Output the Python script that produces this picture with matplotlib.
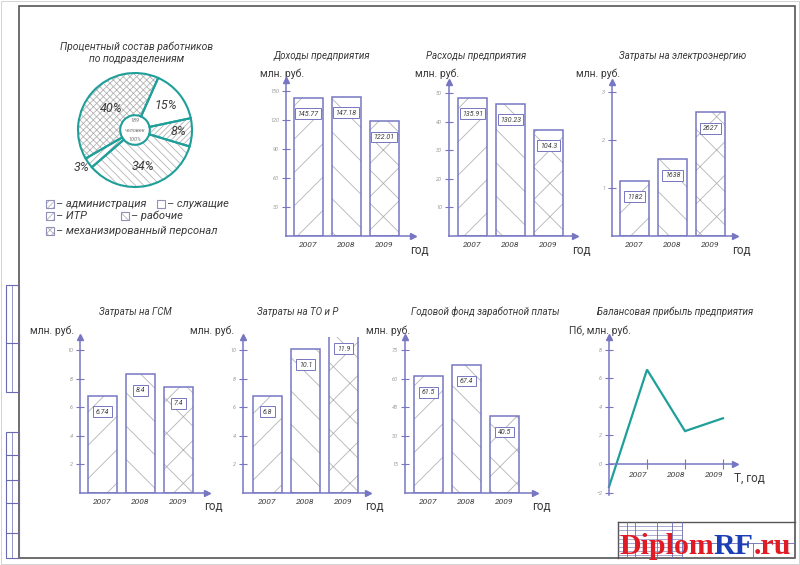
import math
import matplotlib
matplotlib.use('Agg')
import matplotlib.pyplot as plt
from matplotlib import font_manager
from matplotlib.patches import Rectangle

W, H = 800, 565

# ---- data ----
years = ['2007', '2008', '2009']

income_vals = [143, 144, 119]
income_labels = ['145.77', '147.18', '122.01']

costs_vals = [48.3, 46.2, 37.1]
costs_labels = ['135.91', '130.23', '104.3']

power_vals = [1.15, 1.6, 2.58]
power_labels = ['1182', '1638', '2627']

fuel_vals = [6.8, 8.3, 7.4]
fuel_labels = ['6.74', '8.4', '7.4']

repair_vals = [6.8, 10.1, 11.2]
repair_labels = ['6.8', '10.1', '11.9']

wage_vals = [61.3, 67.1, 40.4]
wage_labels = ['61.5', '67.4', '40.5']

profit_years = [2006, 2007, 2008, 2009]
profit_vals = [-1.6, 6.6, 2.3, 3.2]

staff_groups = ['механизированный персонал', 'ИТР', 'рабочие', 'администрация', 'служащие']
staff_share = [40, 3, 34, 8, 15]
staff_total = 189

# ---- style ----
names = {f.name for f in font_manager.fontManager.ttflist}
for fam in ['Liberation Sans Narrow', 'Roboto', 'DejaVu Sans']:
    if fam in names:
        break
plt.rcParams['font.family'] = [fam, 'DejaVu Sans']
plt.rcParams['hatch.linewidth'] = 0.6

PURPLE = '#7676c2'
TEAL = '#1f9f99'
TEXT = '#3a3a3a'
HATCHC = '#b4b4b4'
bar_hatch = ['/', '\\', 'x']

fig = plt.figure(figsize=(W / 100, H / 100), dpi=100)
bg = fig.add_axes([0, 0, 1, 1])
bg.set_xlim(0, W)
bg.set_ylim(H, 0)
bg.axis('off')


def rect(x0, y0, x1, y1):
    return [x0 / W, 1 - y1 / H, (x1 - x0) / W, (y1 - y0) / H]


def txt(x, y, s, size=8, style='italic', **kw):
    bg.text(x, y, s, fontsize=size, style=style, color=TEXT,
            ha=kw.pop('ha', 'center'), va=kw.pop('va', 'center'), **kw)


def bar_chart(vals, labels, ticks, title, ax_x, zero_y, top_y, right_x, c0, ppu,
              title_xy, unit_xy, sp=38, bw=29, lab_off=16):
    ax = fig.add_axes(rect(ax_x, top_y, right_x, zero_y))
    ax.patch.set_alpha(0)
    ax.set_xlim((ax_x - c0) / sp, (right_x - c0) / sp)
    ax.set_ylim(0, (zero_y - top_y) / ppu)
    pos = list(range(len(vals)))
    bars = ax.bar(pos, vals, width=bw / sp, facecolor='white', edgecolor=HATCHC, linewidth=0)
    for b, h in zip(bars, bar_hatch):
        b.set_hatch(h)
    ax.bar(pos, vals, width=bw / sp, fill=False, edgecolor=PURPLE, linewidth=1.1)
    for i, (v, s) in enumerate(zip(vals, labels)):
        ax.text(i, v - lab_off / ppu, s, ha='center', va='center', fontsize=5,
                style='italic', color=TEXT,
                bbox=dict(boxstyle='square,pad=0.35', fc='white', ec=PURPLE, lw=0.7))
    for sp_name in ['top', 'right']:
        ax.spines[sp_name].set_visible(False)
    for sp_name in ['left', 'bottom']:
        ax.spines[sp_name].set_color(PURPLE)
        ax.spines[sp_name].set_linewidth(1.1)
    ax.set_yticks(ticks)
    ax.tick_params(axis='y', direction='inout', length=6, width=0.8, color=PURPLE,
                   labelsize=4, labelcolor='#999999', pad=2)
    ax.set_xticks(pos, years)
    ax.tick_params(axis='x', length=0, pad=4, labelsize=6, labelcolor=TEXT)
    for lbl in ax.get_xticklabels() + ax.get_yticklabels():
        lbl.set_style('italic')
    ax.plot(0, 1, marker='^', ms=4, color=PURPLE, transform=ax.transAxes, clip_on=False)
    ax.plot(1, 0, marker='>', ms=4, color=PURPLE, transform=ax.transAxes, clip_on=False)
    txt(title_xy[0], title_xy[1], title, size=7)
    txt(unit_xy[0], unit_xy[1], 'млн. руб.', size=7.5, style='normal')
    txt(right_x + 6, zero_y + 14, 'год', size=8.5, style='normal')
    return ax


# ---- top row ----
bar_chart(income_vals, income_labels, [30, 60, 90, 120, 150], 'Доходы предприятия',
          286, 236, 80, 413, 308, 145 / 150, (322, 56), (282, 74))
bar_chart(costs_vals, costs_labels, [10, 20, 30, 40, 50], 'Расходы предприятия',
          449, 236, 82, 575, 472.5, 143 / 50, (476, 56), (437, 74))
bar_chart(power_vals, power_labels, [1, 2, 3], 'Затраты на электроэнергию',
          612, 236, 82, 735, 634.5, 48, (683, 56), (598, 74))

# ---- bottom row ----
bar_chart(fuel_vals, fuel_labels, [2, 4, 6, 8, 10], 'Затраты на ГСМ',
          80, 493, 337, 207, 102.5, 14.3, (135, 312), (52, 331))
bar_chart(repair_vals, repair_labels, [2, 4, 6, 8, 10], 'Затраты на ТО и Р',
          243, 493, 337, 368, 267.5, 14.3, (298, 312), (212, 331))
bar_chart(wage_vals, wage_labels, [15, 30, 45, 60, 75], 'Годовой фонд заработной платы',
          405, 493, 337, 535, 428.5, 143 / 75, (485, 312), (388, 331))

# ---- profit line ----
lx, lz, lppu, lsp = 609, 464, 14.3, 38
ax = fig.add_axes(rect(lx, 337, 735, 495))
ax.patch.set_alpha(0)
ax.set_xlim(0, (735 - lx) / lsp)
ax.set_ylim(-(495 - lz) / lppu, (lz - 337) / lppu)
xs = [y - profit_years[0] for y in profit_years]
ax.plot(xs, profit_vals, color=TEAL, lw=1.6, clip_on=False, solid_joinstyle='miter')
for sp_name in ['top', 'right']:
    ax.spines[sp_name].set_visible(False)
for sp_name in ['left', 'bottom']:
    ax.spines[sp_name].set_color(PURPLE)
    ax.spines[sp_name].set_linewidth(1.1)
ax.spines['bottom'].set_position(('data', 0))
ax.set_yticks([-2, 0, 2, 4, 6, 8])
ax.tick_params(axis='y', direction='inout', length=6, width=0.8, color=PURPLE,
               labelsize=4, labelcolor='#999999', pad=2)
ax.set_xticks(xs[1:], [str(y) for y in profit_years[1:]])
ax.tick_params(axis='x', direction='inout', length=7, width=0.8, color=PURPLE,
               labelsize=6, labelcolor=TEXT, pad=2)
for lbl in ax.get_xticklabels():
    lbl.set_ha('right')
    lbl.set_style('italic')
for lbl in ax.get_yticklabels():
    lbl.set_style('italic')
ax.plot(0, 1, marker='^', ms=4, color=PURPLE, transform=ax.transAxes, clip_on=False)
ax.plot(1, 0, marker='>', ms=4, color=PURPLE, transform=ax.get_yaxis_transform(), clip_on=False)
txt(675, 312, 'Балансовая прибыль предприятия', size=7)
txt(600, 331, 'Пб, млн. руб.', size=7.5, style='normal')
txt(749, 478, 'T, год', size=8.5, style='normal')

# ---- pie ----
pcx, pcy, pr = 135, 130, 57
pax = fig.add_axes(rect(pcx - pr, pcy - pr, pcx + pr, pcy + pr))
pie_hatch = ['xxxxx', '/////', '\\\\\\\\', '//////', '']
wedges, _ = pax.pie(staff_share, startangle=66, counterclock=True,
                    wedgeprops=dict(width=0.74, facecolor='white', edgecolor=HATCHC, linewidth=0))
for w, h in zip(wedges, pie_hatch):
    w.set_hatch(h)
pax.pie(staff_share, startangle=66, counterclock=True,
        wedgeprops=dict(width=0.74, fill=False, edgecolor=TEAL, linewidth=1.5))
pax.set_aspect('auto')
pax.set_xlim(-1, 1)
pax.set_ylim(-1, 1)
lab_r = [0.57, 1.15, 0.66, 0.76, 0.69]
for w, p, r in zip(wedges, staff_share, lab_r):
    a = math.radians((w.theta1 + w.theta2) / 2)
    pax.text(r * math.cos(a), r * math.sin(a), f'{p}%', ha='center', va='center',
             fontsize=9, style='italic', color=TEXT, clip_on=False)
pax.text(0, 0.17, str(staff_total), ha='center', va='center', fontsize=4, style='italic', color='#777')
pax.text(0, 0.0, 'человек', ha='center', va='center', fontsize=4, style='italic', color='#777')
pax.text(0, -0.17, '100%', ha='center', va='center', fontsize=4, style='italic', color='#777')

txt(137, 47, 'Процентный состав работников', size=7.5)
txt(137, 59, 'по подразделениям', size=7.5)

# legend
leg = [(46, 204, 3), (157, 204, 4), (46, 216, 1), (121, 216, 2), (46, 231, 0)]
for x, y, k in leg:
    bg.add_patch(Rectangle((x, y - 4), 8, 8, facecolor='white', edgecolor=HATCHC,
                           hatch=pie_hatch[k], lw=0))
    bg.add_patch(Rectangle((x, y - 4), 8, 8, fill=False, edgecolor='#9090b8', lw=0.8))
    txt(x + 10, y, '– ' + staff_groups[k], size=8, ha='left')

# ---- drawing frame ----
bg.add_patch(Rectangle((1, 1), 798, 563, fill=False, edgecolor='#cccccc', lw=0.6))
bg.add_patch(Rectangle((19, 6), 776, 552, fill=False, edgecolor='#555555', lw=1.2))
for y0, y1, cuts in [(285, 392, [343]), (432, 558, [455, 480, 503, 533])]:
    bg.add_patch(Rectangle((6, y0), 13, y1 - y0, fill=False, edgecolor='#6a6ab0', lw=0.8))
    bg.plot([12, 12], [y0, y1], color='#6a6ab0', lw=0.5)
    for c in cuts:
        bg.plot([6, 19], [c, c], color='#6a6ab0', lw=0.8)

# title block
bg.plot([618, 795], [522, 522], color='#555555', lw=1.0)
bg.plot([618, 618], [522, 558], color='#555555', lw=1.0)
for x in [627, 635, 657, 672, 682]:
    bg.plot([x, x], [522, 558], color='#6a6ab0', lw=0.6)
for y in [526, 530, 535, 539, 543, 547, 551, 555]:
    bg.plot([618, 682], [y, y], color='#6a6ab0', lw=0.4)
bg.plot([682, 795], [543, 543], color='#6a6ab0', lw=0.6)
bg.plot([753, 753], [543, 558], color='#6a6ab0', lw=0.6)

# watermark
r = fig.canvas.get_renderer()
xcur = 619
for s, c in [('Diplom', '#e01b24'), ('RF', '#1c3fb5'), ('.ru', '#e01b24')]:
    t = bg.text(xcur, 554, s, fontsize=21.5, color=c, family='Liberation Serif',
                fontweight='bold', ha='left', va='baseline')
    bb = t.get_window_extent(r)
    xcur = bg.transData.inverted().transform((bb.x1, bb.y0))[0]

fig.savefig('out.png', dpi=100)
